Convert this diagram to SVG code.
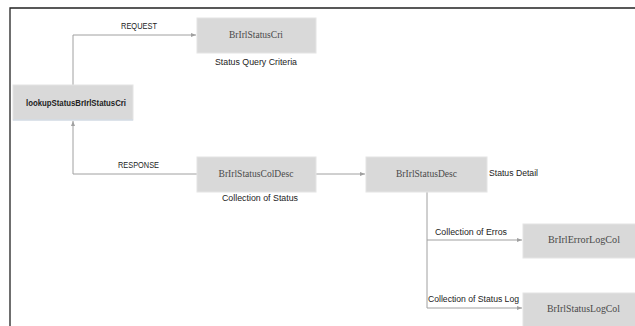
<svg xmlns="http://www.w3.org/2000/svg" width="635" height="326" viewBox="0 0 635 326">
<style>
.box{fill:#d9d9d9;stroke:#e4e4e4;stroke-width:1}
.nt{font-family:"Liberation Serif",serif;font-size:10px;fill:#4a4a4a;text-anchor:middle}
.lb{font-family:"Liberation Sans",sans-serif;font-size:8.5px;fill:#222}
.bold{font-family:"Liberation Sans",sans-serif;font-size:8.5px;font-weight:bold;fill:#222;text-anchor:middle}
.con{fill:none;stroke:#a0a0a0;stroke-width:1}
</style>
<defs>
<marker id="ar" markerWidth="6" markerHeight="6" refX="5" refY="3" orient="auto" markerUnits="userSpaceOnUse">
<path d="M0,1 L5,3 L0,5 Z" fill="#a0a0a0"/>
</marker>
</defs>
<rect x="0" y="0" width="635" height="326" fill="#fff"/>
<path d="M10,326 V8 H635" fill="none" stroke="#222" stroke-width="1.3"/>
<g id="connectors">
<path class="con" d="M73,85 V35 H196" marker-end="url(#ar)"/>
<path class="con" d="M197,174 H73 V121" marker-end="url(#ar)"/>
<path class="con" d="M316,174 H365" marker-end="url(#ar)"/>
<path class="con" d="M427,192 V308"/>
<path class="con" d="M427,240 H522" marker-end="url(#ar)"/>
<path class="con" d="M427,308 H522" marker-end="url(#ar)"/>
<text class="lb" x="121" y="29" textLength="36" lengthAdjust="spacingAndGlyphs">REQUEST</text>
<text class="lb" x="118" y="168" textLength="41" lengthAdjust="spacingAndGlyphs">RESPONSE</text>
<text class="lb" x="435" y="235" textLength="72" lengthAdjust="spacingAndGlyphs">Collection of Erros</text>
<text class="lb" x="428" y="302" textLength="91" lengthAdjust="spacingAndGlyphs">Collection of Status Log</text>
</g>
<g id="lookup">
<rect class="box" x="13" y="85" width="120" height="35"/>
<line x1="13" y1="120" x2="133" y2="120" stroke="#c9d6e4" stroke-width="1"/>
<text class="bold" x="76" y="106" textLength="100" lengthAdjust="spacingAndGlyphs">lookupStatusBrIrlStatusCri</text>
</g>
<g id="statusCri">
<rect class="box" x="197" y="18" width="119" height="35"/>
<text class="nt" x="256" y="38" textLength="54" lengthAdjust="spacingAndGlyphs">BrIrlStatusCri</text>
<text class="lb" x="256" y="65" text-anchor="middle" textLength="82" lengthAdjust="spacingAndGlyphs">Status Query Criteria</text>
</g>
<g id="statusColDesc">
<rect class="box" x="197" y="157" width="119" height="35"/>
<text class="nt" x="256" y="177" textLength="75" lengthAdjust="spacingAndGlyphs">BrIrlStatusColDesc</text>
<text class="lb" x="260" y="201" text-anchor="middle" textLength="76" lengthAdjust="spacingAndGlyphs">Collection of Status</text>
</g>
<g id="statusDesc">
<rect class="box" x="366" y="157" width="121" height="35"/>
<text class="nt" x="426.5" y="177" textLength="61" lengthAdjust="spacingAndGlyphs">BrIrlStatusDesc</text>
<text class="lb" x="489" y="176" textLength="49" lengthAdjust="spacingAndGlyphs">Status Detail</text>
</g>
<g id="errorLogCol">
<rect class="box" x="523" y="224" width="113" height="34"/>
<text class="nt" x="584" y="243" textLength="72" lengthAdjust="spacingAndGlyphs">BrIrlErrorLogCol</text>
</g>
<g id="statusLogCol">
<rect class="box" x="523" y="293" width="113" height="34"/>
<text class="nt" x="583.5" y="312" textLength="73" lengthAdjust="spacingAndGlyphs">BrIrlStatusLogCol</text>
</g>
</svg>
